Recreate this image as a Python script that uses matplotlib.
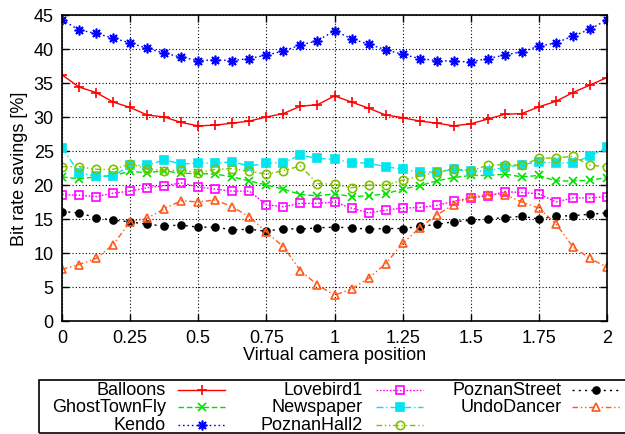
import matplotlib
matplotlib.use("Agg")
import matplotlib.pyplot as plt
from matplotlib.lines import Line2D
import numpy as np

plt.rcParams['font.family'] = ['Liberation Sans', 'DejaVu Sans']

# virtual camera positions, step 1/16
positions = np.arange(33) / 16.0

balloons = [36.2, 34.4, 33.6, 32.2, 31.4, 30.3, 30.0, 29.2, 28.7, 28.8, 29.1, 29.4, 30.0, 30.5, 31.6, 31.8,
            33.1, 32.2, 31.3, 30.3, 29.9, 29.4, 29.1, 28.7, 29.0, 29.7, 30.4, 30.5, 31.5, 32.3, 33.6, 34.7, 35.8]
ghosttownfly = [21.2, 20.9, 21.2, 21.4, 22.0, 21.8, 22.1, 21.7, 21.7, 21.6, 21.2, 20.6, 20.0, 19.4, 18.6, 18.4,
                18.7, 18.3, 18.4, 18.7, 19.4, 19.9, 20.6, 21.1, 21.4, 21.4, 21.6, 21.2, 21.4, 20.6, 20.6, 20.7, 21.1]
kendo = [44.3, 42.8, 42.3, 41.6, 40.9, 40.1, 39.4, 38.8, 38.3, 38.4, 38.3, 38.6, 39.1, 39.7, 40.6, 41.2,
         42.7, 41.5, 40.7, 39.9, 39.2, 38.6, 38.3, 38.2, 38.1, 38.6, 39.1, 39.6, 40.4, 40.9, 41.9, 42.9, 44.3]
lovebird1 = [18.6, 18.5, 18.3, 18.8, 19.1, 19.6, 19.9, 20.3, 19.7, 19.4, 19.1, 19.1, 17.1, 16.8, 17.3, 17.3,
             17.5, 16.6, 15.9, 16.3, 16.6, 16.7, 17.0, 17.6, 18.1, 18.4, 19.0, 18.9, 18.7, 17.5, 18.1, 18.1, 18.3]
newspaper = [25.5, 21.8, 21.3, 21.3, 22.9, 22.9, 23.7, 23.1, 23.2, 23.2, 23.4, 22.8, 23.2, 23.3, 24.4, 23.9,
             23.8, 23.3, 23.2, 22.7, 22.3, 21.9, 21.9, 22.3, 22.0, 22.1, 22.6, 23.0, 23.4, 23.2, 23.3, 24.2, 25.6]
poznanhall2 = [22.7, 22.7, 22.3, 22.3, 23.1, 22.4, 22.1, 22.2, 21.8, 22.3, 22.4, 22.0, 21.6, 22.1, 22.8, 20.2,
               20.1, 19.6, 20.0, 20.0, 20.7, 21.3, 21.9, 22.4, 22.1, 22.9, 23.0, 22.9, 23.9, 24.0, 24.2, 22.9, 22.7]
poznanstreet = [16.1, 15.9, 15.2, 14.8, 14.6, 14.2, 14.0, 14.1, 13.8, 13.8, 13.4, 13.5, 13.2, 13.6, 13.5, 13.7,
                13.8, 13.7, 13.5, 13.6, 13.6, 13.9, 14.2, 14.6, 14.8, 15.0, 15.2, 15.4, 15.0, 15.4, 15.5, 15.7, 15.9]
undodancer = [7.6, 8.3, 9.2, 11.2, 14.6, 15.1, 16.5, 17.7, 17.5, 17.8, 16.8, 15.3, 13.1, 10.9, 7.4, 5.3,
              3.8, 4.7, 6.3, 8.4, 11.4, 13.7, 15.6, 17.1, 18.2, 18.6, 18.6, 17.5, 16.6, 14.3, 10.9, 9.2, 7.9]

names = ["Balloons", "GhostTownFly", "Kendo", "Lovebird1", "Newspaper", "PoznanHall2", "PoznanStreet", "UndoDancer"]
series = [balloons, ghosttownfly, kendo, lovebird1, newspaper, poznanhall2, poznanstreet, undodancer]

xticks = [0, 0.25, 0.5, 0.75, 1, 1.25, 1.5, 1.75, 2]
xtick_labels = ["0", "0.25", "0.5", "0.75", "1", "1.25", "1.5", "1.75", "2"]

# gnuplot-like styles: colour, dash pattern, marker, filled
styles = [
    dict(color="#ff0000", linestyle="-", marker="+", mfc="#ff0000", ms=7),
    dict(color="#00e000", linestyle=(0, (4, 2)), marker="x", mfc="#00e000", ms=6),
    dict(color="#0000ff", linestyle=(0, (1.2, 2)), marker=(8, 2, 0), mfc="#0000ff", ms=7),
    dict(color="#ff00ff", linestyle=(0, (1.2, 1.2)), marker="s", mfc="none", ms=6),
    dict(color="#00e5ee", linestyle=(0, (5, 2, 1, 2)), marker="s", mfc="#00e5ee", ms=6),
    dict(color="#80c000", linestyle=(0, (4, 2, 1, 2, 1, 2)), marker="o", mfc="none", ms=6),
    dict(color="#000000", linestyle=(0, (1.5, 3)), marker="o", mfc="#000000", ms=5),
    dict(color="#ff5a1a", linestyle=(0, (4, 2, 1, 2, 1, 2)), marker="^", mfc="none", ms=6),
]

fig = plt.figure(figsize=(6.25, 4.35), dpi=100)
ax = fig.add_axes([62 / 625, 113 / 435, 545 / 625, 306 / 435])

for name, vals, st in zip(names, series, styles):
    ax.plot(positions, vals, color=st["color"], linestyle=st["linestyle"], linewidth=1.0,
            marker=st["marker"], markersize=st["ms"], markerfacecolor=st["mfc"],
            markeredgecolor=st["color"], markeredgewidth=1.2, label=name)

ax.set_xlim(0, 2)
ax.set_ylim(0, 45)
ax.set_xticks(xticks)
ax.set_xticklabels(xtick_labels)
ax.set_yticks(range(0, 46, 5))
ax.tick_params(direction="in", top=True, right=True, labelsize=13, length=5, width=1, pad=6)
ax.grid(True, color="black", linestyle=(0, (1, 2)), linewidth=0.8)
for sp in ax.spines.values():
    sp.set_linewidth(1.2)
ax.set_xlabel("Virtual camera position", fontsize=13, labelpad=0)
ax.set_ylabel("Bit rate savings [%]", fontsize=13, labelpad=4)

# gnuplot-style legend below the plot: label right-aligned, sample on its right
box = plt.Rectangle((39 / 625, 1 / 435), 600 / 625, 53 / 435, transform=fig.transFigure,
                    fill=False, edgecolor="black", linewidth=1.2, clip_on=False)
fig.add_artist(box)
col_text_end = [166, 363, 562]
col_line = [(178, 225), (376, 423), (572, 620)]
row_y = [391, 408, 426]
for k, (name, st) in enumerate(zip(names, styles)):
    c, r = divmod(k, 3)
    y = 1 - row_y[r] / 435
    fig.text(col_text_end[c] / 625, y, name, ha="right", va="center", fontsize=13)
    x0, x1 = col_line[c]
    fig.add_artist(Line2D([x0 / 625, x1 / 625], [y, y], transform=fig.transFigure,
                          color=st["color"], linestyle=st["linestyle"], linewidth=1.0))
    fig.add_artist(Line2D([(x0 + x1) / 2 / 625], [y], transform=fig.transFigure,
                          marker=st["marker"], markersize=st["ms"], markerfacecolor=st["mfc"],
                          markeredgecolor=st["color"], markeredgewidth=1.2, linestyle="none"))

fig.savefig("out.png", dpi=100)
